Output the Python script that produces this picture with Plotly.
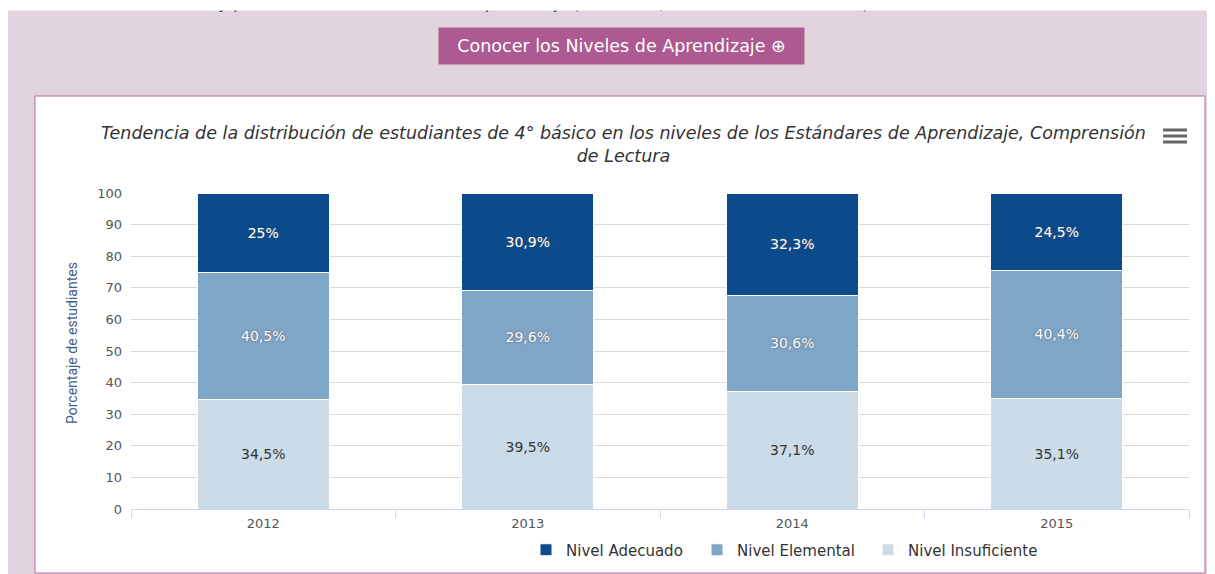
import plotly.graph_objects as go

years = ["2012", "2013", "2014", "2015"]
adecuado = [25.0, 30.9, 32.3, 24.5]
elemental = [40.5, 29.6, 30.6, 40.4]
insuficiente = [34.5, 39.5, 37.1, 35.1]
y_ticks = [0, 10, 20, 30, 40, 50, 60, 70, 80, 90, 100]

def lbl(v):
    s = f"{v:g}".replace(".", ",")
    return s + "%"

# the page body adds an 8px offset; all positions below are screen pixels
OFF = 8
W, H = 1215, 574
L, R, T, B = 131 - OFF, 34, 193 - OFF, 73
PW, PH = W - L - R, H - T - B

def px(x):
    return (x - OFF - L) / PW

def py(y):
    return (H - B - (y - OFF)) / PH

fig = go.Figure()
fig.add_trace(go.Bar(
    x=years, y=insuficiente, name="Nivel Insuficiente",
    marker=dict(color="#cbdbe8", line=dict(color="white", width=1)),
    text=[lbl(v) for v in insuficiente], textposition="inside", insidetextanchor="middle",
    textfont=dict(family="DejaVu Sans", size=14, color="#333333"),
    legendrank=3,
))
fig.add_trace(go.Bar(
    x=years, y=elemental, name="Nivel Elemental",
    marker=dict(color="#7fa5c7", line=dict(color="white", width=1)),
    text=[lbl(v) for v in elemental], textposition="inside", insidetextanchor="middle",
    textfont=dict(family="DejaVu Sans", size=14, color="white", shadow="0px 0px 2px #555"),
    legendrank=2,
))
fig.add_trace(go.Bar(
    x=years, y=adecuado, name="Nivel Adecuado",
    marker=dict(color="#0b4a8b", line=dict(color="white", width=1)),
    text=[lbl(v) for v in adecuado], textposition="inside", insidetextanchor="middle",
    textfont=dict(family="DejaVu Sans", size=14, color="white", shadow="0px 0px 2px #555"),
    legendrank=1,
))

shapes = [
    dict(type="rect", xref="paper", yref="paper", layer="below",
         x0=px(35), x1=px(1205), y0=py(573), y1=py(96),
         fillcolor="white", line=dict(color="#b86aa0", width=1)),
]
for yy in [130, 136, 142]:
    shapes.append(dict(type="line", xref="paper", yref="paper",
                       x0=px(1163), x1=px(1187), y0=py(yy), y1=py(yy),
                       line=dict(color="#666666", width=3)))

annotations = [
    dict(text="alumnos deben saber y poder hacer en cada Nivel de Aprendizaje (Adecuado, Elemental e Insuficiente).",
         xref="paper", yref="paper", x=px(38), y=py(15), xanchor="left", yanchor="bottom",
         showarrow=False, font=dict(family="DejaVu Sans", size=16, color="#333333")),
    dict(text=" ", xref="paper", yref="paper", x=px(0), y=py(11), xanchor="left", yanchor="bottom",
         width=W + 20, height=24, borderpad=0, bgcolor="white", showarrow=False),
    dict(text="Conocer los Niveles de Aprendizaje \u2295", xref="paper", yref="paper",
         x=px(621.5), y=py(46), xanchor="center", yanchor="middle",
         width=365, height=36, borderpad=0, bgcolor="#ad5a90", showarrow=False,
         font=dict(family="DejaVu Sans", size=17.5, color="white")),
    dict(text="<i>Tendencia de la distribución de estudiantes de 4° básico en los niveles de los Estándares de Aprendizaje, Comprensión<br>de Lectura</i>",
         xref="paper", yref="paper", x=px(623), y=py(144), xanchor="center", yanchor="middle",
         showarrow=False, align="center",
         font=dict(family="DejaVu Sans", size=17.5, color="#333333")),
    dict(text="Porcentaje de estudiantes", xref="paper", yref="paper",
         x=px(72), y=py(343), xanchor="center", yanchor="middle", textangle=-90,
         showarrow=False, font=dict(family="Roboto", size=14, color="#3f5f8d")),
]

fig.update_layout(
    width=W, height=H, autosize=False,
    margin=dict(l=L, r=R, t=T, b=B, pad=0),
    paper_bgcolor="#e1d4de", plot_bgcolor="rgba(0,0,0,0)",
    barmode="stack", bargap=0.5,
    showlegend=True,
    legend=dict(orientation="h", x=px(526), y=py(550), xanchor="left", yanchor="middle",
                font=dict(family="DejaVu Sans", size=15, color="#333333"),
                entrywidth=126, entrywidthmode="pixels",
                traceorder="normal", bgcolor="rgba(0,0,0,0)"),
    shapes=shapes, annotations=annotations,
    hovermode=False,
    xaxis=dict(type="category", categoryorder="array", categoryarray=years,
               showgrid=False, showline=True, linecolor="#ccd6eb", linewidth=1,
               ticks="outside", tickson="boundaries", ticklen=8, tickcolor="#ccd6eb",
               tickfont=dict(family="DejaVu Sans", size=13, color="#555555"),
               ticklabelstandoff=2),
    yaxis=dict(range=[0, 100], tickvals=y_ticks, showgrid=True, gridcolor="#d9d9d9",
               zeroline=False, showline=False,
               tickfont=dict(family="DejaVu Sans", size=13, color="#555555"),
               ticklabelstandoff=8),
    uniformtext=dict(minsize=14, mode="show"),
)

fig.write_html("out.html")
